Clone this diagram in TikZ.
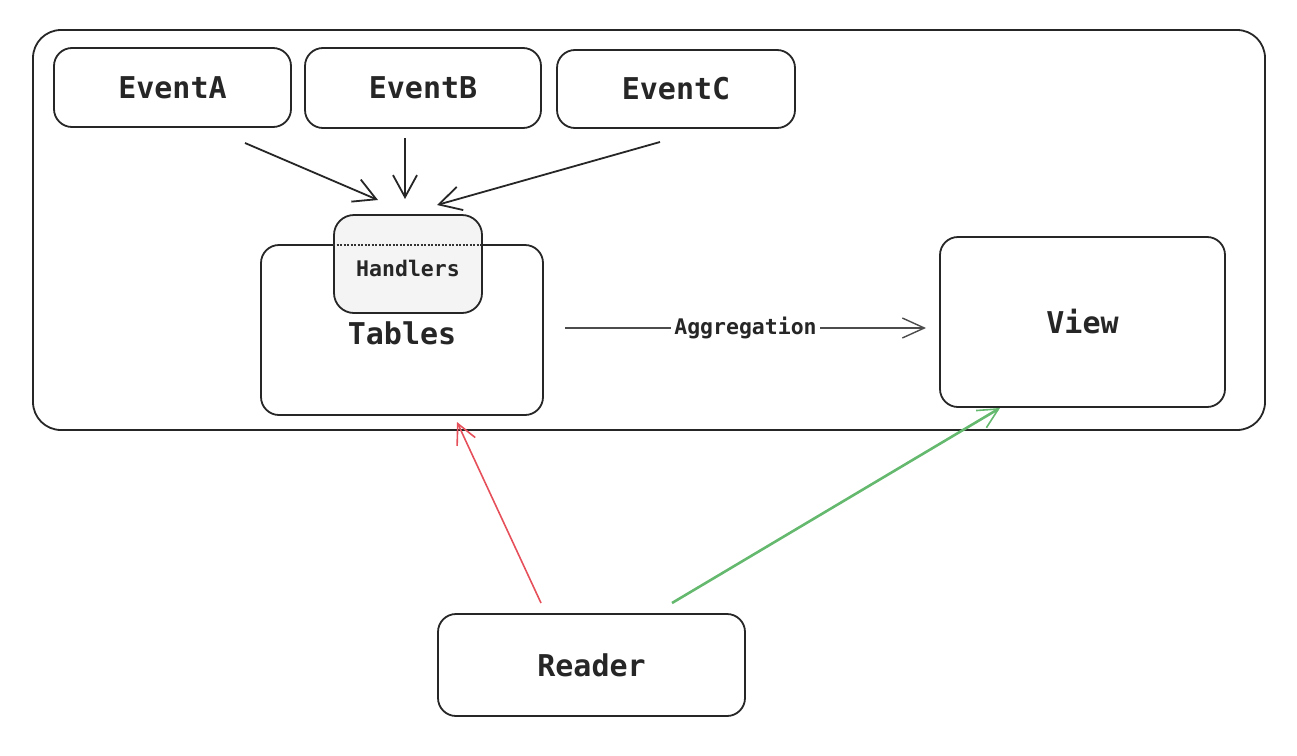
\documentclass[tikz,border=0pt]{standalone}
\usepackage{fontspec}
\setmonofont{DejaVu Sans Mono}
\usetikzlibrary{arrows.meta}
\tikzset{
  box/.style={draw=black!85, line width=1.8pt, rounded corners=18pt, fill=white, font=\ttfamily\bfseries\fontsize{30}{34}\selectfont, text=black!85},
  outerbox/.style={draw=black!85, line width=1.8pt, rounded corners=28pt},
  hbox/.style={draw=black!85, line width=1.8pt, rounded corners=20pt, fill=gray!9},
  arr/.style={draw=black!85, line width=1.8pt, -{Straight Barb[length=22pt,width=24pt,line width=1.8pt]}},
  aggarr/.style={draw=black!70, line width=1.4pt, -{Straight Barb[length=22pt,width=20pt,line width=1.4pt]}},
  redarr/.style={draw={rgb,255:red,230;green,80;blue,90}, line width=1.6pt, -{Straight Barb[length=20pt,width=20pt,line width=1.6pt]}},
  greenarr/.style={draw={rgb,255:red,100;green,185;blue,110}, line width=2.6pt, -{Straight Barb[length=20pt,width=20pt,line width=1.6pt]}},
  lbl/.style={fill=white, inner sep=3pt, font=\ttfamily\bfseries\fontsize{21.5}{24}\selectfont, text=black!85},
  plain/.style={font=\ttfamily\bfseries\fontsize{30}{34}\selectfont, text=black!85},
  small/.style={font=\ttfamily\bfseries\fontsize{21.5}{24}\selectfont, text=black!85}
}
\begin{document}
\begin{tikzpicture}[x=1pt,y=-1pt]
\useasboundingbox (0,0) rectangle (1297,755);
\draw[outerbox] (33,30) rectangle (1265,430);
\node[box, minimum width=237pt, minimum height=79pt] (EventA) at (172.5,87.5) {EventA};
\node[box, minimum width=236pt, minimum height=80pt] (EventB) at (423,88) {EventB};
\node[box, minimum width=238pt, minimum height=78pt] (EventC) at (676,89) {EventC};
\node[box, minimum width=282pt, minimum height=170pt] (Tables) at (402,330) {};
\node[plain] (TablesLbl) at (402,333) {Tables};
\node[hbox, minimum width=148pt, minimum height=98pt] (Handlers) at (408,264) {};
\draw[black!80, line width=1.5pt, dash pattern=on 2pt off 1.5pt] (Handlers.west |- 0,245) -- (Handlers.east |- 0,245);
\node[small] (HandlersLbl) at (408,268) {Handlers};
\node[box, minimum width=285pt, minimum height=170pt] (View) at (1082.5,322) {View};
\node[box, minimum width=307pt, minimum height=102pt] (Reader) at (591.5,665) {Reader};
\coordinate (aS) at (245,143);
\coordinate (aE) at (378,200);
\coordinate (bS) at (405,138);
\coordinate (bE) at (405,199);
\coordinate (cS) at (660,142);
\coordinate (cE) at (437,205);
\coordinate (gS) at (565,328);
\coordinate (gE) at (926,328);
\coordinate (rS) at (541,603);
\coordinate (rE) at (457,422);
\coordinate (vS) at (672,603);
\coordinate (vE) at (1000,408);
\draw[arr] (aS) -- (aE);
\draw[arr] (bS) -- (bE);
\draw[arr] (cS) -- (cE);
\draw[aggarr] (gS) -- node[lbl] (AggLbl) {Aggregation} (gE);
\draw[redarr] (rS) -- (rE);
\draw[greenarr] (vS) -- (vE);
\end{tikzpicture}
\end{document}
